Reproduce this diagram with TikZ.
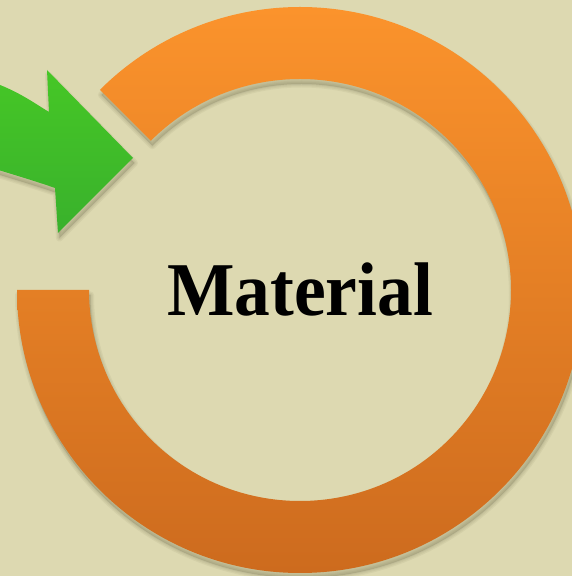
\documentclass[tikz,border=0pt]{standalone}
\usepackage{fontspec}
\setmainfont{Liberation Serif}
\usetikzlibrary{calc}
\definecolor{bgc}{RGB}{221,217,177}
\definecolor{ringtop}{RGB}{251,147,44}
\definecolor{ringbot}{RGB}{205,107,30}
\definecolor{arrtop}{RGB}{70,199,38}
\definecolor{arrbot}{RGB}{57,177,44}
\definecolor{shadowc}{RGB}{70,68,40}
\newcommand\myringpath{(17,286) arc[start angle=180,end angle=495,radius=283pt] -- (150.8,435.2) arc[start angle=135,end angle=-180,radius=211pt] -- cycle}
\newcommand\myarrowpath{(-8,494) .. controls (18,485) and (34,473) .. (49,464) -- (47,506) -- (133,418) -- (58,343) -- (55,388) .. controls (38,394) and (18,400) .. (-8,408) -- cycle}
\tikzset{
  softshadow/.style={fill=shadowc,draw=shadowc,line width=#1,opacity=0.06,line join=round},
}
\begin{document}
\begin{tikzpicture}[x=1pt,y=1pt]
\useasboundingbox (0,0) rectangle (572,576);
\fill[bgc] (0,0) rectangle (572,576);
\clip (0,0) rectangle (572,576);
% ring shadow
\foreach \w in {7pt,4.5pt,2pt}{
  \path[softshadow=\w, shift={(1.5,-5)}] \myringpath;
}
% ring
\shade[top color=ringtop,bottom color=ringbot] \myringpath;
% arrow shadow
\foreach \w in {7pt,4.5pt,2pt}{
  \path[softshadow=\w, shift={(1.5,-5)}] \myarrowpath;
}
% arrow
\shade[top color=arrtop,bottom color=arrbot] \myarrowpath;
% label
\node[anchor=base, inner sep=0pt] (label) at (300,260)
  {\fontsize{76}{80}\selectfont\bfseries\scalebox{0.94}[1]{Material}};
\end{tikzpicture}
\end{document}
